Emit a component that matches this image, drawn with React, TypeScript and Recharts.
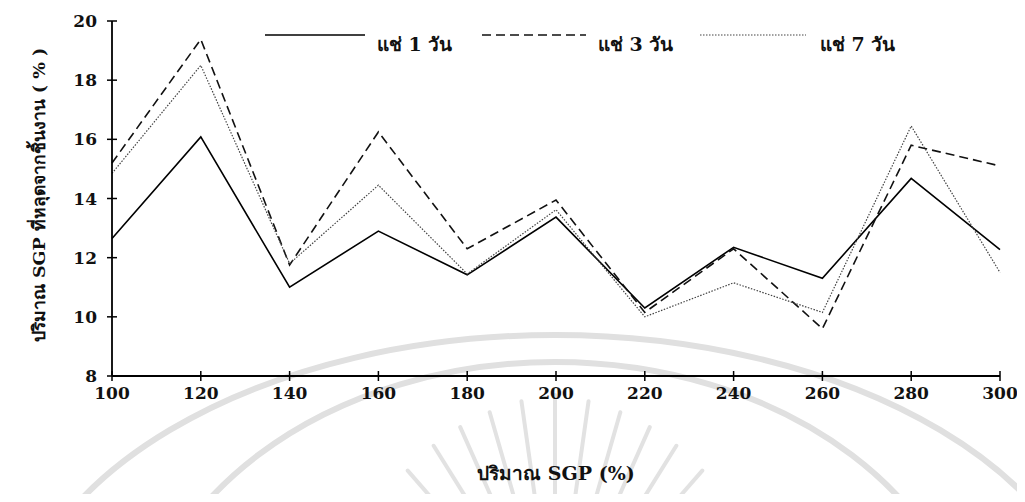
import React from 'react';
import { LineChart, Line, XAxis, YAxis, Label } from 'recharts';

// SGP amount (%) on the horizontal axis
const sgpLevels = [100, 120, 140, 160, 180, 200, 220, 240, 260, 280, 300];
// SGP released from the specimen (%) after soaking 1, 3 and 7 days
const soak1Day = [12.65, 16.08, 11.0, 12.9, 11.42, 13.37, 10.3, 12.35, 11.3, 14.68, 12.27];
const soak3Day = [15.2, 19.38, 11.75, 16.25, 12.3, 13.95, 10.15, 12.3, 9.6, 15.8, 15.1];
const soak7Day = [14.85, 18.5, 11.8, 14.45, 11.45, 13.62, 10.0, 11.15, 10.15, 16.45, 11.5];

const seriesNames = ['แช่ 1 วัน', 'แช่ 3 วัน', 'แช่ 7 วัน'];
const yTicks = [8, 10, 12, 14, 16, 18, 20];
const xTitle = 'ปริมาณ SGP  (%)';
const yTitle = 'ปริมาณ SGP ที่หลุดจากชิ้นงาน ( % )';

const data = sgpLevels.map((x, i) => ({
  x,
  s1: soak1Day[i],
  s3: soak3Day[i],
  s7: soak7Day[i],
}));

const FONT = "'DejaVu Serif', 'Liberation Serif', serif";

const seriesStyles = [
  { key: 's1', stroke: '#000', width: 1.6, dash: undefined as string | undefined },
  { key: 's3', stroke: '#111', width: 1.6, dash: '9 5' },
  { key: 's7', stroke: '#444', width: 1.2, dash: '1.5 1.5' },
];

const YTick = (props: any) => {
  const { x, y, payload } = props;
  return (
    <g>
      <line x1={x - 5} x2={x + 5} y1={y} y2={y} stroke="#000" strokeWidth={1.5} />
      <text x={x - 15} y={y + 6} textAnchor="end" fontFamily={FONT} fontWeight="bold" fontSize={17} fill="#111">
        {payload.value}
      </text>
    </g>
  );
};

const XTick = (props: any) => {
  const { x, y, payload } = props;
  return (
    <g>
      <line x1={x} x2={x} y1={y - 5} y2={y + 5} stroke="#000" strokeWidth={1.5} />
      <text x={x} y={y + 23} textAnchor="middle" fontFamily={FONT} fontWeight="bold" fontSize={17} fill="#111">
        {payload.value}
      </text>
    </g>
  );
};

const YTitle = () => {
  const cx = 32;
  const cy = 187;
  return (
    <text
      x={cx}
      y={cy}
      transform={`rotate(-90 ${cx} ${cy})`}
      textAnchor="middle"
      dominantBaseline="middle"
      fontFamily={FONT}
      fontWeight="bold"
      fontSize={17.5}
      fill="#111"
    >
      {yTitle}
    </text>
  );
};

// Faint seal in the background of the page
const Seal = () => {
  const cx = 555;
  const cy = 640;
  const rays = [-70, -60, -50, -41, -32, -24, -16, -8, 0, 8, 16, 24, 32, 41, 50, 60, 70];
  return (
    <svg width={1025} height={502} style={{ position: 'absolute', left: -8, top: -8 }}>
      <ellipse cx={555} cy={660} rx={545} ry={325} fill="none" stroke="#e0e0e0" strokeWidth={6} />
      <ellipse cx={555} cy={680} rx={420} ry={318} fill="none" stroke="#e0e0e0" strokeWidth={6} />
      {rays.map((a) => {
        const r = (a * Math.PI) / 180;
        const r1 = 130;
        const r2 = 245 - Math.abs(a) * 0.5;
        return (
          <line
            key={a}
            x1={cx + r1 * Math.sin(r)}
            y1={cy - r1 * Math.cos(r)}
            x2={cx + r2 * Math.sin(r)}
            y2={cy - r2 * Math.cos(r)}
            stroke="#e2e2e2"
            strokeWidth={4}
            strokeLinecap="round"
          />
        );
      })}
    </svg>
  );
};

const legendLayout = [
  { lineX: 257, len: 100, textX: 369 },
  { lineX: 474, len: 104, textX: 590 },
  { lineX: 692, len: 106, textX: 812 },
];

const LegendBox = () => (
  <svg width={1009} height={60} style={{ position: 'absolute', left: 0, top: 0 }}>
    {seriesNames.map((name, i) => {
      const st = seriesStyles[i];
      const pos = legendLayout[i];
      return (
        <g key={name}>
          <line
            x1={pos.lineX}
            x2={pos.lineX + pos.len}
            y1={27}
            y2={27}
            stroke={st.stroke}
            strokeWidth={st.width}
            strokeDasharray={st.dash}
          />
          <text x={pos.textX} y={43} fontFamily={FONT} fontWeight="bold" fontSize={19} fill="#111">
            {name}
          </text>
        </g>
      );
    })}
  </svg>
);

export default function App() {
  return (
    <div style={{ position: 'relative', width: 1017, height: 486 }}>
      <Seal />
      <div style={{ position: 'absolute', left: 0, top: 0 }}>
        <LineChart width={1017} height={486} data={data} margin={{ top: 13, right: 25, left: 0, bottom: 8 }}>
          <XAxis
            dataKey="x"
            type="number"
            domain={[100, 300]}
            ticks={sgpLevels}
            interval={0}
            height={110}
            tickSize={0}
            tickMargin={0}
            tickLine={false}
            axisLine={{ stroke: '#000', strokeWidth: 1.8 }}
            tick={<XTick />}
          >
            <Label
              value={xTitle}
              position="insideBottom"
              offset={6}
              style={{ fontFamily: FONT, fontWeight: 'bold', fontSize: 19, fill: '#111', whiteSpace: 'pre' }}
            />
          </XAxis>
          <YAxis
            type="number"
            domain={[8, 20]}
            ticks={yTicks}
            interval={0}
            width={104}
            tickSize={0}
            tickMargin={0}
            tickLine={false}
            axisLine={{ stroke: '#000', strokeWidth: 1.8 }}
            tick={<YTick />}
          >
            <Label content={<YTitle />} />
          </YAxis>
          {seriesStyles.map((st, i) => (
            <Line
              key={st.key}
              dataKey={st.key}
              name={seriesNames[i]}
              type="linear"
              stroke={st.stroke}
              strokeWidth={st.width}
              strokeDasharray={st.dash}
              dot={false}
              activeDot={false}
              isAnimationActive={false}
            />
          ))}
        </LineChart>
      </div>
      <LegendBox />
    </div>
  );
}
